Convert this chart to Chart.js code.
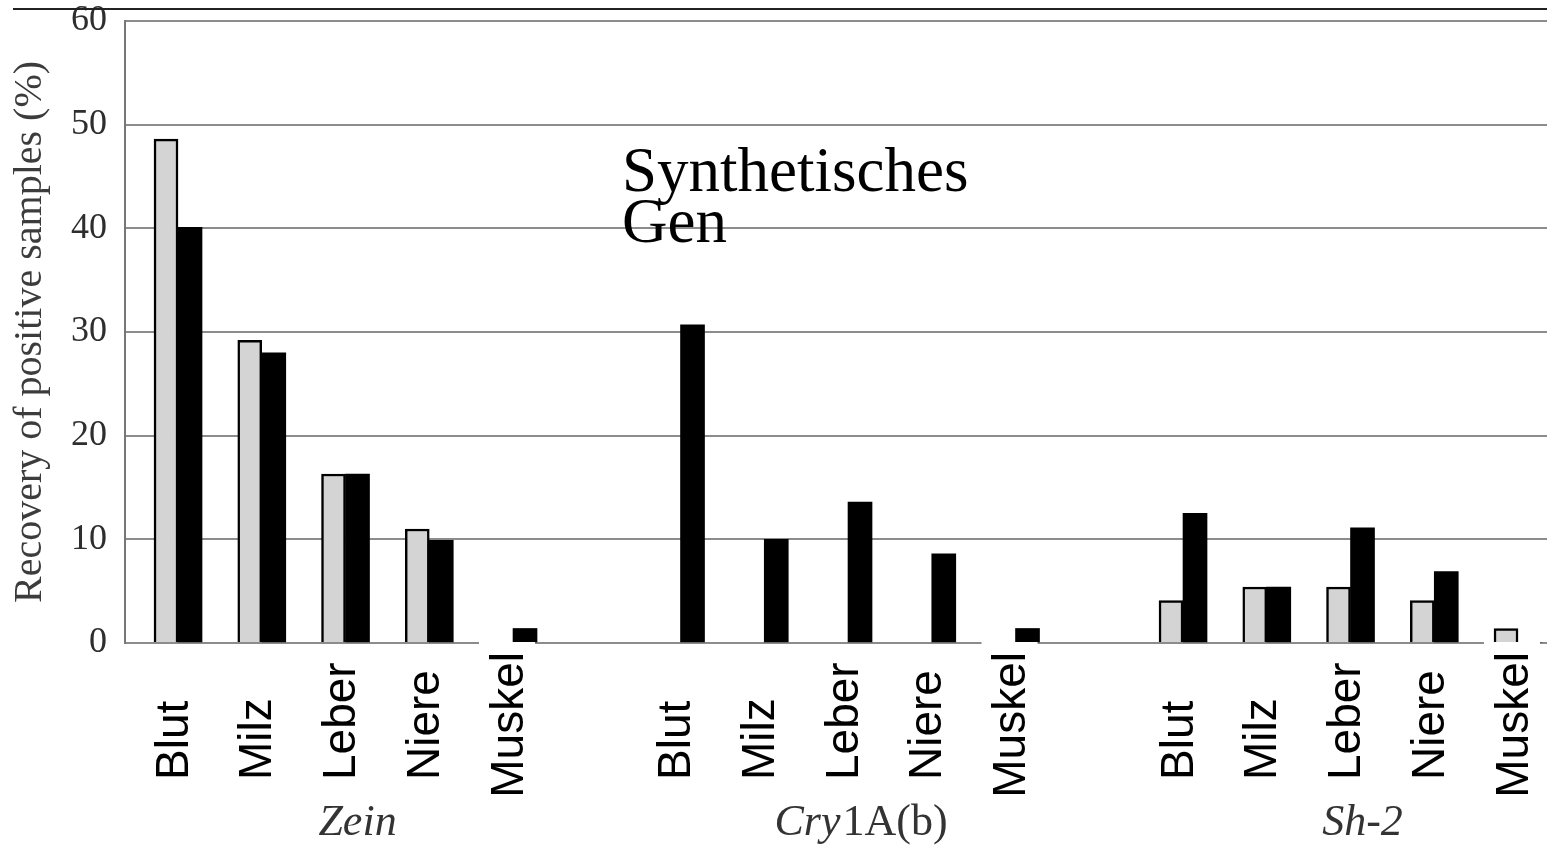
<!DOCTYPE html>
<html>
<head>
<meta charset="utf-8">
<script src="https://cdn.jsdelivr.net/npm/chart.js@4.4.1/dist/chart.umd.min.js"></script>
<style>
    html, body { margin: 0; padding: 0; background: #fff; overflow: hidden; }
    #wrap { width: 1547px; height: 849px; position: relative; }
</style>
</head>
<body>
<div id="wrap"><canvas id="recoveryChart"></canvas></div>
<script>
// tissue labels, one slot per position ('' = gap between the gene groups)
const categories = ['Blut', 'Milz', 'Leber', 'Niere', 'Muskel', '',
                    'Blut', 'Milz', 'Leber', 'Niere', 'Muskel', '',
                    'Blut', 'Milz', 'Leber', 'Niere', 'Muskel'];
// grey bars
const greyValues = [48.6, 29.2, 16.3, 11.0, 0, null,
                    0, 0, 0, 0, 0, null,
                    4.1, 5.4, 5.4, 4.1, 1.4];
// black bars
const blackValues = [40.1, 28.0, 16.3, 9.9, 1.4, null,
                     30.7, 10.0, 13.6, 8.6, 1.4, null,
                     12.5, 5.4, 11.1, 6.9, 0];
const groupLabels = ['Zein', 'Cry1A(b)', 'Sh-2'];
const groupItalic = ['Zein', 'Cry', 'Sh-2'];   // italic part of each group label
const groupCenter = [2, 8, 14];                 // slot under which the group name sits
const yTicks = [0, 10, 20, 30, 40, 50, 60];
const noteLines = ['Synthetisches', 'Gen'];

function toPoints(values) {
    let pts = [];
    values.forEach(function (v, i) {
        if (v !== null) pts.push({x: i, y: v});
    });
    return pts;
}

const labelPlugin = {
    id: 'labelPlugin',
    afterDraw: function (chart) {
        const ctx = chart.ctx;
        const xs = chart.scales.x;
        ctx.save();

        // frame line at the very top
        ctx.strokeStyle = '#222';
        ctx.lineWidth = 2;
        ctx.beginPath();
        ctx.moveTo(13, 9);
        ctx.lineTo(chart.width, 9);
        ctx.stroke();

        // tissue labels, rotated, reading upwards
        ctx.font = '46px "Liberation Sans", Arial, sans-serif';
        categories.forEach(function (lab, i) {
            if (!lab) return;
            const w = ctx.measureText(lab).width;
            const cx = xs.getPixelForValue(i) - 5;
            const start = Math.max(780, 652 + w);
            ctx.fillStyle = '#fff';
            ctx.fillRect(cx - 29, start - w - 10, 56, w + 14);
            ctx.save();
            ctx.translate(cx, start);
            ctx.rotate(-Math.PI / 2);
            ctx.fillStyle = '#000';
            ctx.textAlign = 'left';
            ctx.textBaseline = 'middle';
            ctx.fillText(lab, 0, 2);
            ctx.restore();
        });

        // gene group names
        ctx.fillStyle = '#333';
        ctx.textBaseline = 'alphabetic';
        ctx.textAlign = 'left';
        groupLabels.forEach(function (g, k) {
            const it = groupItalic[k];
            const rest = g.slice(it.length);
            const fItal = 'italic 44px "Liberation Serif", "Times New Roman", serif';
            const fReg = '44px "Liberation Serif", "Times New Roman", serif';
            ctx.font = fItal;
            const w1 = ctx.measureText(it).width;
            ctx.font = fReg;
            const w2 = ctx.measureText(rest).width;
            let x = xs.getPixelForValue(groupCenter[k]) + 12 - (w1 + w2) / 2;
            ctx.font = fItal;
            ctx.fillText(it, x, 835);
            ctx.font = fReg;
            ctx.fillText(rest, x + w1 + 2, 835);
        });

        // annotation
        ctx.fillStyle = '#000';
        ctx.font = '63px "Liberation Serif", "Times New Roman", serif';
        ctx.fillText(noteLines[0], 622, 191);
        ctx.fillText(noteLines[1], 622, 242);

        ctx.restore();
    }
};

const ctx = document.getElementById('recoveryChart');
const recoveryChart = new Chart(ctx, {
    type: 'bar',
    data: {
        datasets: [
            {
                label: 'grey',
                data: toPoints(greyValues),
                backgroundColor: '#d4d4d4',
                borderColor: '#000',
                borderWidth: 2.5,
                borderSkipped: 'bottom',
                barThickness: 24,
            },
            {
                label: 'black',
                data: toPoints(blackValues),
                backgroundColor: '#000',
                borderColor: '#000',
                borderWidth: 0,
                barThickness: 24,
            }
        ]
    },
    plugins: [labelPlugin],
    options: {
        responsive: true,
        maintainAspectRatio: false,
        animation: false,
        layout: {
            padding: {top: 21, bottom: 206, left: 0, right: 0}
        },
        plugins: {
            legend: {display: false},
            tooltip: {enabled: false},
        },
        scales: {
            x: {
                type: 'linear',
                display: false,
                min: -0.633,
                max: 16.346,
                offset: false,
            },
            y: {
                min: 0,
                max: 60,
                afterBuildTicks: function (scale) {
                    scale.ticks = yTicks.map(function (v) { return {value: v}; });
                },
                afterFit: function (scale) {
                    scale.width = 125;
                    scale.paddingTop = 0;
                    scale.paddingBottom = 0;
                },
                ticks: {
                    color: '#2e2e2e',
                    padding: 18,
                    font: {family: '"Liberation Serif", "Times New Roman", serif', size: 36},
                },
                grid: {
                    color: '#8c8c8c',
                    lineWidth: 2,
                    drawTicks: false,
                },
                border: {
                    display: true,
                    color: '#777',
                    width: 2,
                },
                title: {
                    display: true,
                    text: 'Recovery of positive samples (%)',
                    color: '#3c3c3c',
                    padding: {top: 6, bottom: 0},
                    font: {family: '"Liberation Serif", "Times New Roman", serif', size: 40},
                },
            },
        },
    },
});
</script>
</body>
</html>
